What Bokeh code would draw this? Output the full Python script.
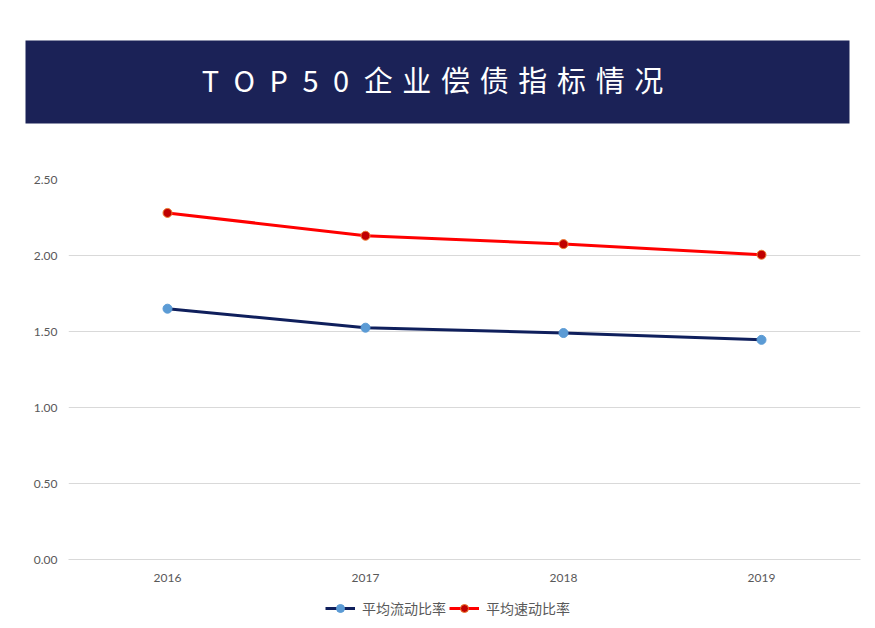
from bokeh.plotting import figure
from bokeh.models import (Range1d, FactorRange, ColumnDataSource, Legend, LegendItem,
                          NumeralTickFormatter, SingleIntervalTicker)
from bokeh.layouts import column
from bokeh.core.properties import value
from bokeh.embed import file_html
from bokeh.resources import INLINE

# ---- data ----
years = ["2016", "2017", "2018", "2019"]
current_ratio = [1.65, 1.525, 1.49, 1.445]     # 平均流动比率
quick_ratio = [2.28, 2.13, 2.075, 2.005]       # 平均速动比率
series_names = ["平均流动比率", "平均速动比率"]
title_text = "TOP50企业偿债指标情况"

W = 875
banner_h = 135
chart_h = 454
legend_h = 628 - banner_h - chart_h

# ---- banner ----
banner = figure(width=W, height=banner_h, x_range=Range1d(0, W), y_range=Range1d(banner_h, 0),
                x_axis_type=None, y_axis_type=None, toolbar_location=None,
                output_backend="svg", min_border=0)
banner.frame_align = False
banner.outline_line_color = None
banner.grid.visible = False
banner.quad(left=[25], right=[849], top=[40], bottom=[123],
            fill_color="#1b2257", line_color=None)
# letter-spaced title (en space between latin letters, narrower space between CJK)
spaced_title = ""
for i, ch in enumerate(title_text):
    spaced_title += ch
    if i < len(title_text) - 1:
        spaced_title += "\u2002" if ord(ch) < 128 else "\u2004"
banner.text(x=[432], y=[78], text=[spaced_title], text_color="white",
            text_font=value("Noto Sans CJK SC"), text_font_size="29px",
            text_align="center", text_baseline="middle")

# ---- chart ----
src = ColumnDataSource(dict(year=years, cur=current_ratio, quick=quick_ratio))
p = figure(width=W, height=chart_h, x_range=FactorRange(factors=years, range_padding=0),
           y_range=Range1d(0, 2.5), toolbar_location=None, output_backend="svg",
           min_border_left=68, min_border_right=15, min_border_top=44,
           min_border_bottom=chart_h - 44 - 380)
p.frame_align = False
p.outline_line_color = None
p.xgrid.grid_line_color = None
p.ygrid.grid_line_color = "#d9d9d9"
p.ygrid.grid_line_width = 1

p.yaxis.ticker = SingleIntervalTicker(interval=0.5)
p.yaxis.formatter = NumeralTickFormatter(format="0.00")
for ax in (p.xaxis[0], p.yaxis[0]):
    ax.major_tick_line_color = None
    ax.minor_tick_line_color = None
    ax.major_label_text_font = "Lato"
    ax.major_label_text_font_size = "12px"
    ax.major_label_text_color = "#595959"
p.yaxis.axis_line_color = None
p.xaxis.axis_line_color = "#d9d9d9"
p.xaxis.major_label_standoff = 8
p.yaxis.major_label_standoff = 5

blue_line, blue_dot = "#0f1f5c", "#5b9bd5"
red_line, red_dot, red_edge = "#ff0000", "#c00000", "#ed7d31"

p.line("year", "cur", source=src, line_color=blue_line, line_width=3)
p.scatter("year", "cur", source=src, size=9, fill_color=blue_dot, line_color=blue_dot)
p.line("year", "quick", source=src, line_color=red_line, line_width=3)
p.scatter("year", "quick", source=src, size=9, fill_color=red_dot, line_color=red_edge,
          line_width=1)

# ---- legend strip (hidden renderers only supply the legend swatches) ----
lf = figure(width=W, height=legend_h, x_range=FactorRange(factors=years, range_padding=0),
            y_range=Range1d(0, 1), x_axis_type=None, y_axis_type=None,
            toolbar_location=None, output_backend="svg", min_border=0)
lf.frame_align = False
lf.outline_line_color = None
lf.grid.visible = False
g1 = lf.line("year", "cur", source=src, line_color=blue_line, line_width=3, visible=False)
m1 = lf.scatter("year", "cur", source=src, size=9, fill_color=blue_dot, line_color=blue_dot,
                visible=False)
g2 = lf.line("year", "quick", source=src, line_color=red_line, line_width=3, visible=False)
m2 = lf.scatter("year", "quick", source=src, size=9, fill_color=red_dot, line_color=red_edge,
                visible=False)
legend = Legend(items=[LegendItem(label=series_names[0], renderers=[g1, m1]),
                       LegendItem(label=series_names[1], renderers=[g2, m2])],
                orientation="horizontal", location=(325, 10),
                border_line_color=None, background_fill_alpha=0,
                inactive_fill_alpha=0,
                padding=0, margin=0, spacing=3, label_standoff=7,
                glyph_width=30, glyph_height=20, label_height=20,
                label_text_font="Noto Sans CJK SC", label_text_font_size="14px",
                label_text_color="#595959")
lf.add_layout(legend, "center")

layout = column(banner, p, lf, spacing=0)
open("out.html", "w").write(file_html(layout, INLINE))
